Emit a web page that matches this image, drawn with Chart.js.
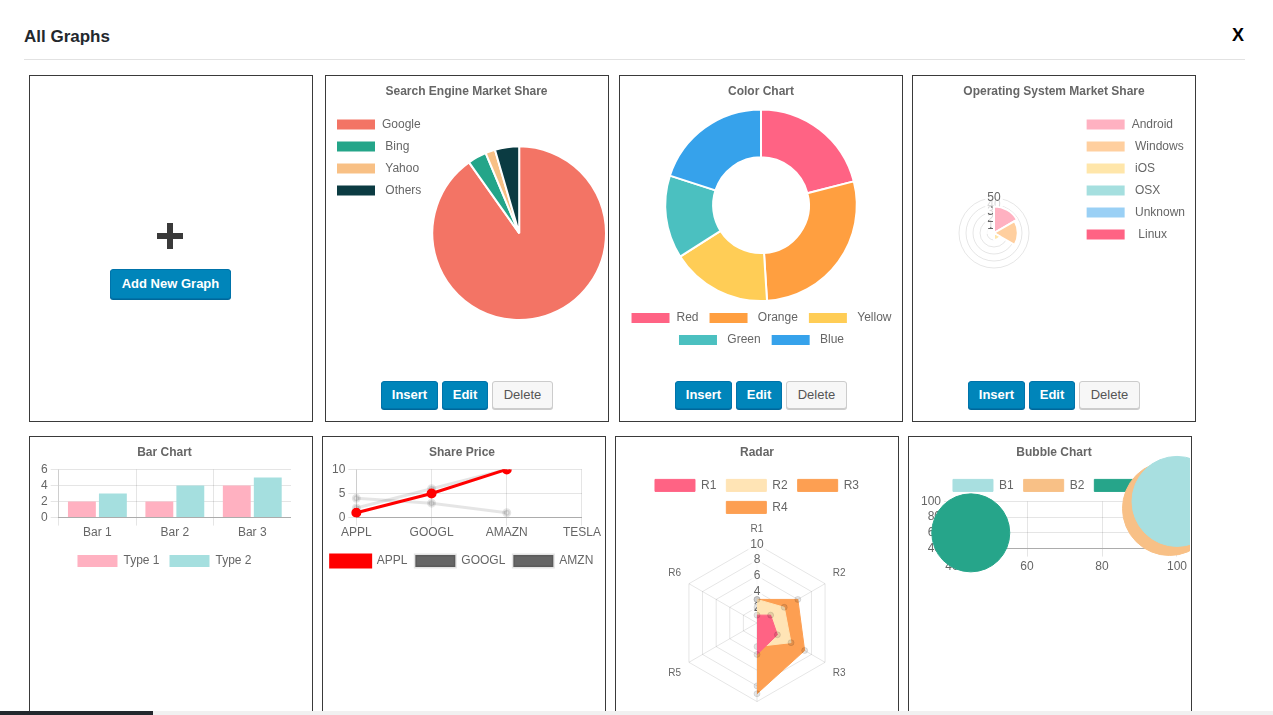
<!DOCTYPE html>
<html>
<head>
<meta charset="utf-8">
<title>All Graphs</title>
<script src="https://cdn.jsdelivr.net/npm/chart.js@4.4.1/dist/chart.umd.min.js"></script>
<style>
html, body { margin: 0; padding: 0; width: 1273px; height: 715px; overflow: hidden; background: #fff; font-family: "Liberation Sans", Arial, sans-serif; }
.head { position: absolute; left: 24px; top: 27px; font-size: 17px; font-weight: bold; color: #23282d; }
.close { position: absolute; left: 1232px; top: 25px; font-size: 18px; font-weight: bold; color: #000; }
.rule { position: absolute; left: 24px; top: 59px; width: 1221px; height: 1px; background: #e2e2e2; }
.card { position: absolute; width: 284px; box-sizing: border-box; border: 1px solid #3a3a3a; background: #fff; }
.box { position: absolute; }
.btns { position: absolute; left: 0; right: 0; top: 305px; display: flex; justify-content: center; gap: 4px; }
.btn { height: 28px; box-sizing: border-box; border-radius: 3px; font-size: 13px; line-height: 26px; text-align: center; }
.blue { background: #0085ba; border: 1px solid #0073aa; box-shadow: 0 1px 0 #006799; color: #fff; font-weight: bold; }
.gray { background: #f7f7f7; border: 1px solid #ccc; box-shadow: 0 1px 0 #ccc; color: #555; }
.plus-h { position: absolute; left: 127px; top: 157px; width: 26px; height: 6px; background: #3a3a3a; }
.plus-v { position: absolute; left: 137px; top: 147px; width: 6px; height: 26px; background: #3a3a3a; }
.add { position: absolute; left: 80px; top: 193px; width: 121px; height: 30px; line-height: 28px; }
.scroll { position: absolute; left: 0; top: 711px; width: 1273px; height: 4px; background: #f1f1f1; }
.thumb { position: absolute; left: 0; top: 0; width: 153px; height: 4px; background: #23282d; }
</style>
</head>
<body>
<div class="head">All Graphs</div>
<div class="close">X</div>
<div class="rule"></div>

<div class="card" style="left:29px;top:75px;height:347px;">
  <div class="plus-h"></div><div class="plus-v"></div>
  <div class="btn blue add">Add New Graph</div>
</div>
<div class="card" style="left:325px;top:75px;height:347px;">
  <div class="btns"><div class="btn blue" style="width:57px">Insert</div><div class="btn blue" style="width:46px">Edit</div><div class="btn gray" style="width:61px">Delete</div></div>
</div>
<div class="card" style="left:619px;top:75px;height:347px;">
  <div class="btns"><div class="btn blue" style="width:57px">Insert</div><div class="btn blue" style="width:46px">Edit</div><div class="btn gray" style="width:61px">Delete</div></div>
</div>
<div class="card" style="left:912px;top:75px;height:347px;">
  <div class="btns"><div class="btn blue" style="width:57px">Insert</div><div class="btn blue" style="width:46px">Edit</div><div class="btn gray" style="width:61px">Delete</div></div>
</div>
<div class="card" style="left:29px;top:436px;height:300px;"></div>
<div class="card" style="left:322px;top:436px;height:300px;"></div>
<div class="card" style="left:615px;top:436px;height:300px;"></div>
<div class="card" style="left:908px;top:436px;height:300px;"></div>

<div class="box" style="left:326px;top:76px;width:281px;height:282px;"><canvas id="pieChart"></canvas></div>
<div class="box" style="left:620px;top:76px;width:282px;height:280px;"><canvas id="colorChart"></canvas></div>
<div class="box" style="left:913px;top:76px;width:282px;height:282px;"><canvas id="osChart"></canvas></div>
<div class="box" style="left:38px;top:437px;width:253px;height:140px;"><canvas id="barChart"></canvas></div>
<div class="box" style="left:321px;top:437px;width:282px;height:140px;"><canvas id="lineChart"></canvas></div>
<div class="box" style="left:616px;top:437px;width:282px;height:286px;"><canvas id="radarChart"></canvas></div>
<div class="box" style="left:918px;top:437px;width:272px;height:140px;"><canvas id="bubbleChart"></canvas></div>

<div class="scroll"><div class="thumb"></div></div>

<script>
// data
const searchLabels = ['Google', ' Bing', ' Yahoo', ' Others'];
const searchShare = [90.2, 3.5, 1.8, 4.5];

const colorLabels = ['Red', ' Orange', ' Yellow', ' Green', ' Blue'];
const colorValues = [21, 28, 17, 14, 20];

const osLabels = ['Android', ' Windows', ' iOS', ' OSX', ' Unknown', '  Linux'];
const osShare = [38, 34, 10, 0, 0, 0];
const osTicks = [0, 10, 20, 30, 40, 50];

const barLabels = ['Bar 1', 'Bar 2', 'Bar 3'];
const barType1 = [2, 2, 4];
const barType2 = [3, 4, 5];
const barTicks = [0, 2, 4, 6];

const stockLabels = ['APPL', 'GOOGL', 'AMAZN', 'TESLA'];
const applPrice = [1, 5, 10];
const googlPrice = [4, 3, 1];
const amznPrice = [2, 6, 10];
const priceTicks = [0, 5, 10];

// only the first four axes have values, the shapes close back along R1
const radarAxes = ['R1', 'R2', 'R3', 'R4', 'R5', 'R6'];
const radarR1 = [1, 2, 3, 4];
const radarR2 = [3, 4, 5, 3];
const radarR3 = [3, 6, 7, 9];
const radarR4 = [2, 4, 6, 8];
const radarTicks = [0, 2, 4, 6, 8, 10];

const bubbleB1 = [{ x: 100, y: 100, r: 45 }];
const bubbleB2 = [{ x: 98, y: 91, r: 47 }];
const bubbleB3 = [{ x: 45, y: 60, r: 39 }];
const bubbleTicks = [40, 60, 80, 100];

Chart.defaults.font.family = "'Liberation Sans', Arial, sans-serif";
Chart.defaults.font.size = 12;
Chart.defaults.color = '#666';
Chart.defaults.animation = false;
Chart.defaults.maintainAspectRatio = false;
Chart.defaults.layout.autoPadding = false;

function title(text) {
    return { display: true, text: text, font: { weight: 'bold', size: 12 }, padding: { top: 8, bottom: 10 } };
}
function legend(position, align, gap) {
    return {
        position: position,
        align: align || 'center',
        fullSize: position === 'top' || position === 'bottom',
        labels: { boxWidth: 40, padding: gap || 10, font: { size: 12, lineHeight: 1 } }
    };
}
function range(ticks) {
    return { min: ticks[0], max: ticks[ticks.length - 1], ticks: { stepSize: ticks[1] - ticks[0], autoSkip: false } };
}
// pushes the bottom legend down a little, like the old layout
function xGap(scale) { scale.height += 5; }

new Chart(document.getElementById('pieChart'), {
    type: 'pie',
    data: {
        labels: searchLabels,
        datasets: [{ data: searchShare, backgroundColor: ['#f37465', '#24a589', '#f8c085', '#0b3b42'] }]
    },
    options: { plugins: { title: title('Search Engine Market Share'), legend: legend('left', 'start') } }
});

new Chart(document.getElementById('colorChart'), {
    type: 'doughnut',
    data: {
        labels: colorLabels,
        datasets: [{ data: colorValues, backgroundColor: ['rgb(255, 99, 132)', 'rgb(255, 159, 64)', 'rgb(255, 205, 86)', 'rgb(75, 192, 192)', 'rgb(54, 162, 235)'] }]
    },
    options: { plugins: { title: title('Color Chart'), legend: legend('bottom') } }
});

new Chart(document.getElementById('osChart'), {
    type: 'polarArea',
    data: {
        labels: osLabels,
        datasets: [{ data: osShare, backgroundColor: ['#ffb1c1', '#ffcf9f', '#ffe6aa', '#a5dfdf', '#9ad0f5', '#ff6384'] }]
    },
    options: {
        plugins: { title: title('Operating System Market Share'), legend: legend('right', 'start') },
        scales: {
            r: Object.assign(range(osTicks), {
                afterFit: function (scale) { scale.drawingArea = 35; }
            })
        }
    }
});

new Chart(document.getElementById('barChart'), {
    type: 'bar',
    data: {
        labels: barLabels,
        datasets: [
            { label: 'Type 1', data: barType1, backgroundColor: '#ffb1c1' },
            { label: 'Type 2', data: barType2, backgroundColor: '#a5dfdf' }
        ]
    },
    options: {
        plugins: { title: title('Bar Chart'), legend: legend('bottom') },
        scales: {
            x: { ticks: { padding: 0 }, border: { color: 'rgba(0,0,0,0.25)' }, afterFit: xGap },
            y: range(barTicks)
        }
    }
});

const fadedLine = {
    borderColor: 'rgba(0,0,0,0.1)', backgroundColor: '#666',
    pointBackgroundColor: 'rgba(0,0,0,0.1)', pointBorderColor: 'rgba(0,0,0,0.1)',
    borderWidth: 3, pointRadius: 3, fill: false
};

new Chart(document.getElementById('lineChart'), {
    type: 'line',
    data: {
        labels: stockLabels,
        datasets: [
            { label: 'APPL', data: applPrice, borderColor: 'red', backgroundColor: 'red', borderWidth: 3, pointRadius: 3.5, fill: false },
            Object.assign({ label: 'GOOGL', data: googlPrice }, fadedLine),
            Object.assign({ label: 'AMZN', data: amznPrice }, fadedLine)
        ]
    },
    options: {
        plugins: { title: title('Share Price'), legend: legend('bottom', 'center', 8) },
        scales: {
            x: {
                ticks: { padding: 0 }, border: { color: 'rgba(0,0,0,0.25)' },
                afterFit: function (scale) { scale.height += 7; scale.paddingRight += 2; }
            },
            y: Object.assign(range(priceTicks), { afterFit: function (scale) { scale.width += 8; } })
        }
    }
});

const radarPoint = { pointRadius: 3, pointBackgroundColor: 'rgba(0,0,0,0.1)', pointBorderColor: 'rgba(0,0,0,0.1)', borderWidth: 1, fill: true };

new Chart(document.getElementById('radarChart'), {
    type: 'radar',
    data: {
        labels: radarAxes,
        datasets: [
            Object.assign({ label: 'R1', data: radarR1, backgroundColor: '#ff6384', borderColor: '#ff6384' }, radarPoint),
            Object.assign({ label: 'R2', data: radarR2, backgroundColor: '#ffe4b5', borderColor: '#ffe4b5' }, radarPoint),
            Object.assign({ label: 'R3', data: radarR3, backgroundColor: '#fd9f52', borderColor: '#fd9f52' }, radarPoint),
            Object.assign({ label: 'R4', data: radarR4, backgroundColor: '#fd9f52', borderColor: '#fd9f52' }, radarPoint)
        ]
    },
    options: {
        plugins: { title: title('Radar'), legend: legend('top') },
        scales: {
            r: Object.assign(range(radarTicks), { pointLabels: { font: { size: 10 }, padding: 1 } })
        }
    }
});

new Chart(document.getElementById('bubbleChart'), {
    type: 'bubble',
    data: {
        datasets: [
            { label: 'B1', data: bubbleB1, backgroundColor: '#a8dfe0', borderColor: '#a8dfe0', clip: false },
            { label: 'B2', data: bubbleB2, backgroundColor: '#f8c086', borderColor: '#f8c086', clip: false },
            { label: 'B3', data: bubbleB3, backgroundColor: '#26a58a', borderColor: '#26a58a', clip: false }
        ]
    },
    options: {
        plugins: { title: title('Bubble Chart'), legend: legend('top') },
        scales: {
            x: Object.assign(range(bubbleTicks), { border: { color: 'rgba(0,0,0,0.25)' } }),
            y: range(bubbleTicks)
        }
    }
});
</script>
</body>
</html>
